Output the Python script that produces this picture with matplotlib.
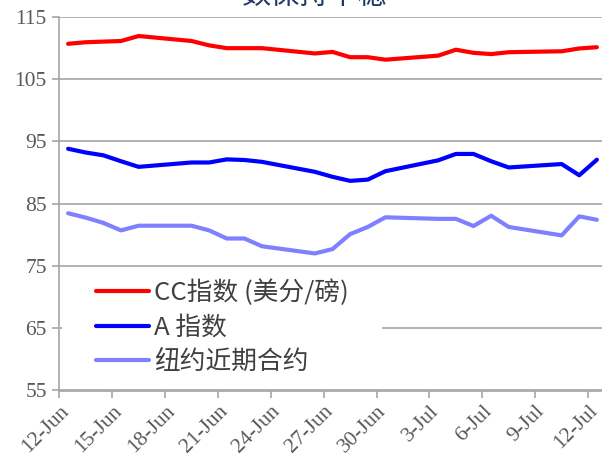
import numpy as np
import pandas as pd
import matplotlib
matplotlib.use("Agg")
import matplotlib.pyplot as plt
from matplotlib.patches import Rectangle

# ==========================
# data
# ==========================
dates = ["2017-06-12", "2017-06-13", "2017-06-14", "2017-06-15", "2017-06-16",
         "2017-06-19", "2017-06-20", "2017-06-21", "2017-06-22", "2017-06-23",
         "2017-06-26", "2017-06-27", "2017-06-28", "2017-06-29", "2017-06-30",
         "2017-07-03", "2017-07-04", "2017-07-05", "2017-07-06", "2017-07-07",
         "2017-07-10", "2017-07-11", "2017-07-12"]

cc_index = [110.65, 110.9, 111.0, 111.1, 111.9,
            111.1, 110.4, 109.95, 109.95, 109.95,
            109.1, 109.35, 108.5, 108.5, 108.1,
            108.75, 109.7, 109.2, 109.0, 109.3,
            109.45, 109.9, 110.1]

a_index = [93.8, 93.2, 92.75, 91.8, 90.9,
           91.6, 91.6, 92.1, 92.0, 91.7,
           90.1, 89.3, 88.65, 88.85, 90.2,
           91.95, 92.97, 92.97, 91.8, 90.8,
           91.35, 89.55, 92.05]

ny_front = [83.45, 82.75, 81.9, 80.7, 81.45,
            81.45, 80.7, 79.4, 79.4, 78.15,
            77.0, 77.7, 80.1, 81.25, 82.8,
            82.55, 82.55, 81.4, 83.05, 81.25,
            79.9, 82.95, 82.4]

series_names = ["CC指数 (美分/磅)", "A 指数", "纽约近期合约"]
series_colors = ["#FF0000", "#0000FF", "#8080FF"]

tick_labels = ["12-Jun", "15-Jun", "18-Jun", "21-Jun", "24-Jun", "27-Jun",
               "30-Jun", "3-Jul", "6-Jul", "9-Jul", "12-Jul"]
y_ticks = [55, 65, 75, 85, 95, 105, 115]

title = "数保持平稳"

# ==========================
# figure
# ==========================
W, H = 602, 463
fig = plt.figure(figsize=(W / 100, H / 100), dpi=100)

left, right = 59.3, 605.7
top, bottom = 16.7, 390.5
ax = fig.add_axes([left / W, 1 - bottom / H, (right - left) / W, (bottom - top) / H])

d = pd.to_datetime(dates)
x = (d - d[0]).days.to_numpy() + 0.5  # points sit in the middle of each day slot

for vals, name, col in zip([cc_index, a_index, ny_front], series_names, series_colors):
    ax.plot(x, vals, color=col, lw=3.0, label=name, zorder=3,
            solid_capstyle="round", solid_joinstyle="round")

ax.set_xlim(0, 31)
ax.set_ylim(55, 115)

ax.set_yticks(y_ticks)
ax.set_xticks(np.arange(0, 31, 3))
ax.set_xticklabels(tick_labels, rotation=45, ha="right", va="top",
                   rotation_mode="anchor")

grey = "#A6A6A6"
ax.grid(axis="y", color=grey, lw=1.2)
ax.set_axisbelow(True)
for s in ["top", "right"]:
    ax.spines[s].set_visible(False)
for s in ["left", "bottom"]:
    ax.spines[s].set_color(grey)
    ax.spines[s].set_linewidth(1.2)

ax.tick_params(axis="both", direction="out", length=5, width=1.2, color=grey,
               labelcolor="#595959", labelsize=15.5)
ax.tick_params(axis="x", pad=3)
ax.tick_params(axis="y", pad=4)
for lab in ax.get_xticklabels() + ax.get_yticklabels():
    lab.set_family("Liberation Serif")

# white box behind the legend hides the grid line
ax.add_patch(Rectangle((0.005, 0.015), 0.585, 0.31, transform=ax.transAxes,
                       facecolor="white", edgecolor="none", zorder=1))

leg = ax.legend(loc="upper left", bbox_to_anchor=(0.067, 0.297), frameon=False,
                prop={"family": ["Noto Sans CJK SC", "DejaVu Sans"], "size": 18.5},
                handlelength=2.05, handletextpad=0.2, labelspacing=0.33,
                borderaxespad=0, borderpad=0)
for t in leg.get_texts():
    t.set_color("#404040")

fig.text(315 / W, 1 - 4 / H, title, ha="center", va="baseline", fontsize=21,
         color="#1F3864", family=["Noto Sans CJK SC", "DejaVu Sans"])

fig.savefig("out.png", dpi=100)
plt.close(fig)
